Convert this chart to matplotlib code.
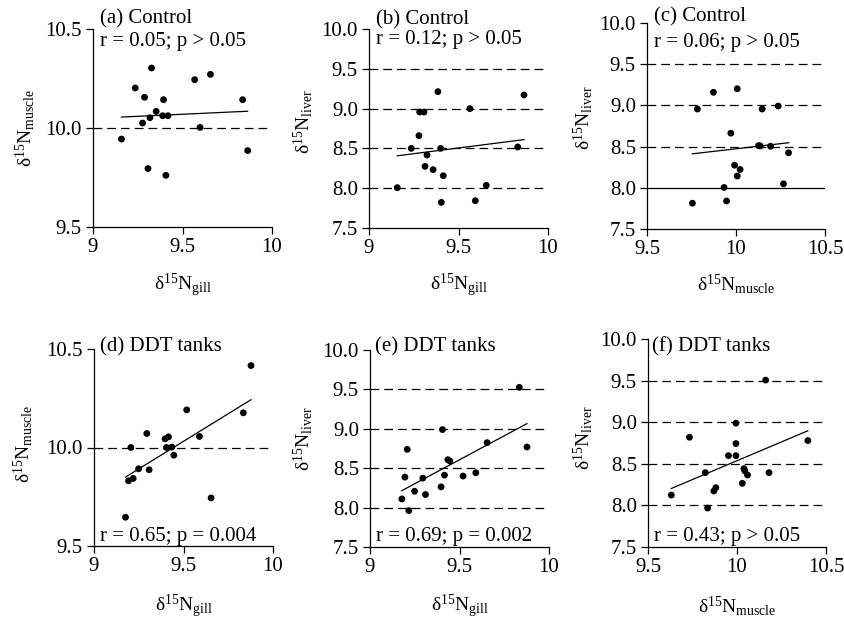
import matplotlib
matplotlib.use("Agg")
import matplotlib.pyplot as plt
import numpy as np

plt.rcParams["font.family"] = ["Liberation Serif", "DejaVu Serif"]
plt.rcParams["mathtext.fontset"] = "custom"
plt.rcParams["mathtext.rm"] = "Liberation Serif"
plt.rcParams["mathtext.it"] = "Liberation Serif:italic"
plt.rcParams["mathtext.bf"] = "Liberation Serif:bold"

# control tanks
a_gill = [9.159, 9.236, 9.327, 9.288, 9.277, 9.318, 9.353, 9.394, 9.389, 9.419,
          9.307, 9.407, 9.568, 9.656, 9.598, 9.836, 9.864]
a_muscle = [9.944, 10.202, 10.303, 10.155, 10.025, 10.052, 10.084, 10.143, 10.062,
            10.062, 9.795, 9.761, 10.244, 10.271, 10.003, 10.143, 9.886]

b_gill = [9.158, 9.236, 9.279, 9.283, 9.307, 9.324, 9.313, 9.358, 9.385, 9.400,
          9.415, 9.404, 9.564, 9.594, 9.655, 9.831, 9.866]
b_liver = [8.007, 8.500, 8.660, 8.957, 8.957, 8.417, 8.274, 8.233, 9.213, 8.500,
           8.157, 7.822, 8.999, 7.843, 8.036, 8.518, 9.171]

c_muscle = [9.755, 9.783, 9.873, 9.933, 9.947, 9.971, 10.007, 9.992, 10.007, 10.023,
            10.136, 10.127, 10.147, 10.194, 10.237, 10.267, 10.295]
c_liver = [7.813, 8.956, 9.159, 8.004, 7.840, 8.663, 9.202, 8.274, 8.143, 8.222,
           8.508, 8.512, 8.956, 8.504, 8.992, 8.048, 8.425]

# DDT tanks
d_gill = [9.176, 9.193, 9.219, 9.206, 9.249, 9.295, 9.308, 9.397, 9.416, 9.405,
          9.435, 9.446, 9.518, 9.589, 9.654, 9.834, 9.877]
d_muscle = [9.646, 9.831, 9.843, 10.000, 9.892, 10.071, 9.887, 10.044, 10.054,
            10.000, 10.002, 9.961, 10.191, 10.056, 9.744, 10.176, 10.416]

e_gill = [9.178, 9.217, 9.195, 9.208, 9.249, 9.295, 9.310, 9.397, 9.405, 9.416,
          9.435, 9.446, 9.520, 9.591, 9.654, 9.834, 9.877]
e_liver = [8.110, 7.962, 8.387, 8.739, 8.208, 8.374, 8.166, 8.263, 8.990, 8.412,
           8.608, 8.591, 8.400, 8.442, 8.824, 9.526, 8.769]

f_muscle = [9.631, 9.733, 9.822, 9.835, 9.870, 9.881, 9.952, 9.994, 9.994, 9.994,
            10.030, 10.039, 10.044, 10.059, 10.180, 10.161, 10.398]
f_liver = [8.124, 8.819, 8.394, 7.968, 8.173, 8.213, 8.598, 8.988, 8.743, 8.598,
           8.265, 8.442, 8.414, 8.365, 8.394, 9.506, 8.779]

titles = ["(a) Control", "(b) Control", "(c) Control",
          "(d) DDT tanks", "(e) DDT tanks", "(f) DDT tanks"]
stats = ["r = 0.05; p > 0.05", "r = 0.12; p > 0.05", "r = 0.06; p > 0.05",
         "r = 0.65; p = 0.004", "r = 0.69; p = 0.002", "r = 0.43; p > 0.05"]

GILL = r"δ$^{15}$N$_{\mathrm{gill}}$"
MUSC = r"δ$^{15}$N$_{\mathrm{muscle}}$"
LIVR = r"δ$^{15}$N$_{\mathrm{liver}}$"

W, H = 845, 619
fig = plt.figure(figsize=(W / 100, H / 100), dpi=100)


def add_ax(l, t, r, b):
    return fig.add_axes([l / W, 1 - b / H, (r - l) / W, (b - t) / H])


# panel specs: box (px), data, limits, ticks, labels, grid lines, text placement
panels = [
    dict(box=(93, 29, 272, 227), x=a_gill, y=a_muscle, xl=(9, 10), yl=(9.5, 10.5),
         xt=[9, 9.5, 10], yt=[9.5, 10.0, 10.5], xlab=GILL, ylab=MUSC,
         grid=[10.0], solid=[], tpos=(0.04, 1.03), spos=(0.04, 0.915),
         xlc=-0.227, ylc=(-0.313, 0.5)),
    dict(box=(369, 29, 548, 228), x=b_gill, y=b_liver, xl=(9, 10), yl=(7.5, 10.0),
         xt=[9, 9.5, 10], yt=[7.5, 8.0, 8.5, 9.0, 9.5, 10.0], xlab=GILL, ylab=LIVR,
         grid=[8.0, 8.5, 9.0, 9.5], solid=[], tpos=(0.04, 1.025), spos=(0.04, 0.927),
         xlc=-0.221, ylc=(-0.30, 0.535)),
    dict(box=(647, 23, 825, 229), x=c_muscle, y=c_liver, xl=(9.5, 10.5), yl=(7.5, 10.0),
         xt=[9.5, 10, 10.5], yt=[7.5, 8.0, 8.5, 9.0, 9.5, 10.0], xlab=MUSC, ylab=LIVR,
         grid=[8.5, 9.0, 9.5], solid=[8.0], tpos=(0.04, 1.005), spos=(0.04, 0.885),
         xlc=-0.209, ylc=(-0.29, 0.54)),
    dict(box=(94, 349, 273, 546), x=d_gill, y=d_muscle, xl=(9, 10), yl=(9.5, 10.5),
         xt=[9, 9.5, 10], yt=[9.5, 10.0, 10.5], xlab=GILL, ylab=MUSC,
         grid=[10.0], solid=[], tpos=(0.034, 0.985), spos=(0.034, 0.027),
         xlc=-0.239, ylc=(-0.33, 0.518)),
    dict(box=(370, 350, 549, 547), x=e_gill, y=e_liver, xl=(9, 10), yl=(7.5, 10.0),
         xt=[9, 9.5, 10], yt=[7.5, 8.0, 8.5, 9.0, 9.5, 10.0], xlab=GILL, ylab=LIVR,
         grid=[8.0, 8.5, 9.0, 9.5], solid=[], tpos=(0.028, 0.99), spos=(0.034, 0.03),
         xlc=-0.234, ylc=(-0.307, 0.55)),
    dict(box=(648, 339, 826, 547), x=f_muscle, y=f_liver, xl=(9.5, 10.5), yl=(7.5, 10.0),
         xt=[9.5, 10, 10.5], yt=[7.5, 8.0, 8.5, 9.0, 9.5, 10.0], xlab=MUSC, ylab=LIVR,
         grid=[8.0, 8.5, 9.0, 9.5], solid=[], tpos=(0.02, 0.94), spos=(0.034, 0.03),
         xlc=-0.226, ylc=(-0.298, 0.526)),
]

for p, title, stat in zip(panels, titles, stats):
    ax = add_ax(*p["box"])
    x = np.array(p["x"])
    y = np.array(p["y"])

    for g in p["grid"]:
        ax.axhline(g, color="black", lw=0.9, ls=(0, (7, 4)), zorder=1)
    for g in p["solid"]:
        ax.axhline(g, color="black", lw=0.9, zorder=1)

    ax.scatter(x, y, s=24, color="black", edgecolors="none", zorder=3)

    # least-squares fit across the data range
    k, c = np.polyfit(x, y, 1)
    xs = np.array([x.min(), x.max()])
    ax.plot(xs, k * xs + c, color="black", lw=0.9, zorder=2)

    ax.set_xlim(*p["xl"])
    ax.set_ylim(*p["yl"])
    ax.set_xticks(p["xt"])
    ax.set_xticklabels([f"{v:g}" for v in p["xt"]])
    ax.set_yticks(p["yt"])
    ax.set_yticklabels([f"{v:.1f}" for v in p["yt"]])
    ax.tick_params(direction="out", length=5, width=0.9, labelsize=15, pad=3,
                   color="black")

    for s in ("top", "right"):
        ax.spines[s].set_visible(False)
    for s in ("left", "bottom"):
        ax.spines[s].set_linewidth(0.9)

    ax.set_xlabel(p["xlab"], fontsize=14)
    ax.xaxis.set_label_coords(0.5, p["xlc"])
    ax.set_ylabel(p["ylab"], fontsize=14)
    ax.yaxis.set_label_coords(*p["ylc"])

    ax.text(*p["tpos"], title, transform=ax.transAxes, fontsize=15,
            ha="left", va="baseline", clip_on=False)
    ax.text(*p["spos"], stat, transform=ax.transAxes, fontsize=15,
            ha="left", va="baseline")

fig.savefig("out.png", dpi=100, facecolor="white")
